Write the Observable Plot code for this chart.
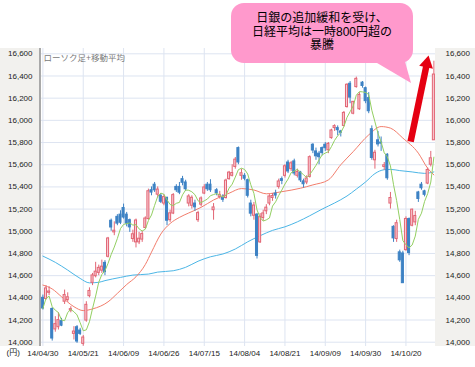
<!DOCTYPE html>
<html><head><meta charset="utf-8">
<script src="https://cdn.jsdelivr.net/npm/d3@7"></script>
<script src="https://cdn.jsdelivr.net/npm/@observablehq/plot@0.6"></script>
<style>
body{margin:0;background:#fff}
#wrap{position:relative;width:475px;height:367px;overflow:hidden;font-family:"Liberation Sans",Arial,sans-serif}
.panel{position:absolute;background:#f2f1ee}
#chart{position:absolute;left:0;top:0}
#tail{position:absolute;left:0;top:0}
#bubble{position:absolute;left:231px;top:3px;width:182px;height:60px;border-radius:13px;background:#ff99cc;
 font-family:"Liberation Sans","Noto Sans CJK JP",sans-serif;font-size:12px;line-height:13.5px;text-align:center;color:#000;box-sizing:border-box;padding-top:9px}
#bubble div{height:13.5px;white-space:nowrap}
</style></head>
<body>
<div id="wrap">
 <div class="panel" style="left:0;top:48px;width:39px;height:298px;border-right:2px solid #a9a9a9"></div>
 <div class="panel" style="left:435px;top:48px;width:40px;height:298px"></div>
 <div id="chart"></div>
 <svg id="tail" width="475" height="367"><polygon points="372,60 404,58 411,83" fill="#ff99cc"/></svg>
 <div id="bubble"><div>日銀の追加緩和を受け、</div><div>日経平均は一時800円超の</div><div>暴騰</div></div>
</div>
<script>
const dates = ["04/30","05/01","05/02","05/07","05/08","05/09","05/12","05/13","05/14","05/15","05/16","05/19","05/20","05/21","05/22","05/23","05/26","05/27","05/28","05/29","05/30","06/02","06/03","06/04","06/05","06/06","06/09","06/10","06/11","06/12","06/13","06/16","06/17","06/18","06/19","06/20","06/23","06/24","06/25","06/26","06/27","06/30","07/01","07/02","07/03","07/04","07/07","07/08","07/09","07/10","07/11","07/14","07/15","07/16","07/17","07/18","07/22","07/23","07/24","07/25","07/28","07/29","07/30","07/31","08/01","08/04","08/05","08/06","08/07","08/08","08/11","08/12","08/13","08/14","08/15","08/18","08/19","08/20","08/21","08/22","08/25","08/26","08/27","08/28","08/29","09/01","09/02","09/03","09/04","09/05","09/08","09/09","09/10","09/11","09/12","09/16","09/17","09/18","09/19","09/22","09/24","09/25","09/26","09/29","09/30","10/01","10/02","10/03","10/06","10/07","10/08","10/09","10/10","10/14","10/15","10/16","10/17","10/20","10/21","10/22","10/23","10/24","10/27","10/28","10/29","10/30","10/31"];

const opens = [14400,14390,14445,14300,14115,14135,14190,14365,14380,14285,14075,14135,14105,13985,14195,14415,14535,14595,14625,14645,14715,14770,15095,14990,15130,15150,15210,15150,15100,14930,14900,14900,14925,15030,15110,15370,15420,15330,15320,15250,15300,15100,15160,15400,15400,15470,15440,15250,15230,15250,15100,15240,15340,15420,15420,15190,15370,15310,15300,15300,15470,15500,15580,15750,15500,15500,15460,15250,15140,15150,14900,15120,15180,15250,15300,15340,15400,15470,15500,15620,15560,15630,15500,15530,15450,15440,15490,15780,15720,15700,15750,15780,15730,15840,15930,15930,15900,15950,16120,16330,16060,16300,16100,16340,16290,16200,15920,15640,15820,15800,15580,15690,15250,15040,14930,14810,14800,14830,15110,15050,15080,15350,15420,15360,15430,15600,15820];
const highs = [14425,14510,14500,14310,14230,14265,14215,14470,14445,14320,14140,14150,14125,14060,14365,14490,14620,14720,14695,14740,14735,14945,15110,15085,15150,15185,15245,15170,15110,15010,15110,14990,15000,15130,15380,15400,15440,15400,15340,15330,15310,15190,15340,15420,15440,15495,15460,15330,15320,15280,15180,15310,15420,15440,15465,15250,15385,15360,15330,15470,15540,15600,15665,15760,15560,15520,15470,15280,15260,15160,15160,15190,15240,15330,15340,15370,15470,15490,15600,15640,15630,15650,15560,15540,15470,15500,15680,15790,15750,15720,15760,15800,15800,15920,15960,15950,15910,16080,16330,16350,16170,16390,16250,16350,16300,16250,15950,15730,15900,15850,15620,15700,15350,15050,15100,14830,14820,15130,15120,15200,15180,15360,15440,15370,15570,15720,16533];
const lows = [14290,14380,14420,14010,14090,14110,14140,14340,14360,14265,14020,13990,14060,13964,14180,14400,14510,14580,14600,14620,14600,14760,15000,14960,15050,15060,15110,15040,14990,14900,14850,14880,14900,15020,15100,15320,15350,15300,15250,15230,15050,15080,15150,15350,15330,15410,15360,15220,15200,15180,15080,15220,15330,15360,15350,15100,15320,15290,15260,15290,15460,15490,15560,15600,15460,15455,15300,15130,15100,14750,14890,15090,15150,15230,15270,15290,15380,15420,15480,15520,15540,15500,15480,15440,15390,15420,15480,15700,15640,15600,15680,15720,15700,15830,15900,15860,15850,15940,16110,16150,16050,16290,16090,16290,16150,16060,15640,15560,15760,15720,15550,15460,15200,14900,14900,14720,14529,14820,14780,15040,15050,15260,15370,15310,15420,15580,15820];
const closes = [14304,14485,14457,14033,14163,14199,14149,14425,14405,14298,14096,14006,14075,14042,14337,14462,14602,14636,14670,14681,14632,14935,15034,15005,15069,15077,15124,15069,15035,14973,15097,14933,14975,15115,15361,15349,15369,15376,15266,15308,15095,15162,15326,15370,15348,15437,15379,15314,15302,15216,15164,15296,15395,15379,15370,15215,15343,15328,15284,15457,15529,15525,15646,15620,15523,15474,15320,15159,15232,14778,15130,15161,15213,15314,15318,15322,15449,15454,15586,15539,15613,15521,15534,15459,15424,15476,15668,15728,15676,15668,15705,15749,15788,15909,15948,15911,15888,16067,16321,16205,16167,16374,16229,16310,16173,16082,15661,15708,15783,15790,15595,15478,15300,14936,15073,14738,14532,15111,14804,15195,15138,15291,15388,15329,15553,15658,16413];

// 25-day and 75-day moving averages: [day index, value]
const ma25 = [[0,14515],[3,14480],[6,14410],[10,14320],[13,14285],[16,14300],[21,14364],[24,14440],[27,14520],[30,14590],[33,14700],[35,14812],[38,14975],[41,15070],[44,15125],[47,15165],[51,15216],[55,15282],[60,15343],[64,15385],[68,15372],[72,15338],[77,15357],[83,15388],[87,15418],[92,15463],[96,15600],[100,15718],[105,15869],[109,15944],[112,15930],[116,15840],[121,15704],[124,15568],[126,15508]];
const ma75 = [[0,14776],[4,14720],[8,14650],[12,14575],[15,14535],[18,14540],[20,14555],[25,14584],[29,14605],[34,14614],[37,14632],[42,14644],[46,14675],[50,14730],[54,14770],[58,14795],[62,14840],[66,14905],[70,14960],[74,15008],[78,15040],[82,15085],[86,15140],[90,15200],[94,15255],[98,15318],[101,15380],[104,15445],[107,15520],[110,15555],[112,15558],[115,15547],[119,15535],[123,15522],[126,15535]];

const yTicks = [14000,14200,14400,14600,14800,15000,15200,15400,15600,15800,16000,16200,16400,16600];
const tickLabels = ["14/04/30","14/05/21","14/06/09","14/06/26","14/07/15","14/08/04","14/08/21","14/09/09","14/09/30","14/10/20"];
const tickIdx = tickLabels.map(l => dates.indexOf(l.slice(3)));

// annotation arrow (day index, price): tail and head
const arrowFrom = [118.5, 15809];
const arrowTo = [123.75, 16514];

const rows = dates.map((d, i) => ({i, date: d, open: opens[i], high: highs[i], low: lows[i], close: closes[i], up: closes[i] >= opens[i]}));

const UP_STROKE = "#e26574", UP_FILL = "#f8ccd4", DOWN = "#3d82c4";

const chart = Plot.plot({
  width: 475, height: 367,
  marginLeft: 41, marginRight: 40, marginTop: 48, marginBottom: 21,
  style: {background: "transparent", fontSize: "8px", fontFamily: "'Liberation Sans', Arial, sans-serif", color: "#222", overflow: "visible"},
  x: {domain: [-0.45, 126.52]},
  y: {domain: [13961.2, 16647.8]},
  marks: [
    Plot.gridY(yTicks, {stroke: "#dde4f1", strokeOpacity: 1}),
    Plot.gridX(tickIdx, {stroke: "#dde4f1", strokeOpacity: 1}),
    Plot.axisY(yTicks, {anchor: "left", tickSize: 0, tickPadding: 9, tickFormat: d3.format(","), label: null}),
    Plot.axisY(yTicks, {anchor: "right", tickSize: 0, tickPadding: 10, tickFormat: d3.format(","), label: null}),
    Plot.axisX(tickIdx, {anchor: "bottom", tickSize: 0, tickPadding: 4, tickFormat: d => tickLabels[tickIdx.indexOf(d)], label: null}),
    Plot.text(["ローソク足+移動平均"], {frameAnchor: "top-left", dx: 2, dy: 6.5, textAnchor: "start", fill: "#7a7a7a", fontSize: 8.5, fontFamily: "'Liberation Sans', 'Noto Sans CJK JP', sans-serif"}),
    Plot.text(["(円)"], {frameAnchor: "bottom-left", dx: -35, dy: 8, fill: "#222", fontSize: 8, fontFamily: "'Liberation Sans', 'Noto Sans CJK JP', sans-serif"}),
    Plot.line(ma75, {x: d => d[0], y: d => d[1], curve: "monotone-x", stroke: "#4cb6e6", strokeWidth: 1}),
    Plot.line(ma25, {x: d => d[0], y: d => d[1], curve: "monotone-x", stroke: "#f27d6c", strokeWidth: 1}),
    Plot.ruleX(rows, {x: "i", y1: "low", y2: "high", stroke: d => d.up ? UP_STROKE : DOWN, strokeWidth: 1}),
    Plot.rect(rows, {x1: d => d.i - 0.33, x2: d => d.i + 0.33, y1: "open", y2: "close", fill: d => d.up ? UP_FILL : DOWN, stroke: d => d.up ? UP_STROKE : DOWN, strokeWidth: 1}),
    Plot.lineY(rows, Plot.windowY({k: 5, anchor: "end", reduce: "mean"}, {x: "i", y: "close", stroke: "#93cf62", strokeWidth: 1})),
    Plot.link([0], {x1: () => arrowFrom[0], y1: () => arrowFrom[1], x2: () => arrowTo[0], y2: () => arrowTo[1], stroke: "#e50012", strokeWidth: 6.5}),
    Plot.dot([0], {x: () => arrowTo[0], y: () => arrowTo[1], symbol: "triangle", r: 5.2, rotate: 11.8, fill: "#e50012", stroke: "none"})
  ]
});
document.getElementById("chart").appendChild(chart);
</script>
</body></html>
